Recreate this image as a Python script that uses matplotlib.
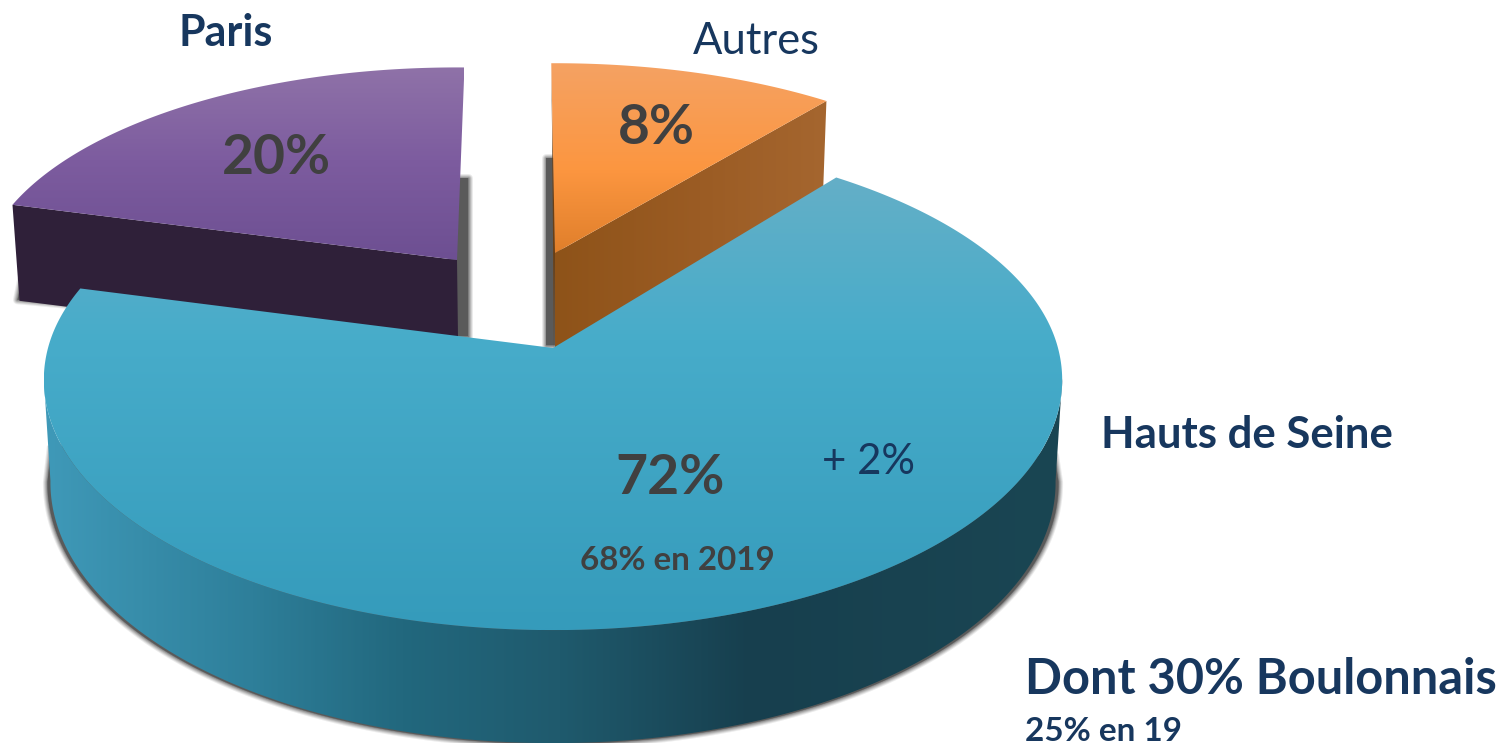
import numpy as np
import matplotlib
matplotlib.use("Agg")
import matplotlib.pyplot as plt
from matplotlib.colors import LinearSegmentedColormap
from matplotlib.patches import Polygon

# values
names = ["Hauts de Seine", "Paris", "Autres"]
shares = [72, 20, 8]
extra_blue = ["68% en 2019", "+ 2%"]
extra_sub = ["Dont 30% Boulonnais", "25% en 19"]

plt.rcParams['font.family'] = ['Lato', 'DejaVu Sans']

W, H = 1501, 743
fig = plt.figure(figsize=(W / 100, H / 100), dpi=100)
ax = fig.add_axes([0, 0, 1, 1])
ax.set_xlim(0, W)
ax.set_ylim(H, 0)
ax.axis("off")

# perspective of the pie plane, in pixels
F, G, K, CX = 505, 246, 0.128, 553


def rim(apex, rx, ry, t1, t2, n=160, back=1.0):
    t = np.radians(np.linspace(t1, t2, n))
    u, v = rx * np.cos(t), ry * np.sin(t)
    v = np.where(v > 0, v * back, v)
    s = 1 + K * v
    return apex[0] + F * u / s, apex[1] - G * v / s, v


def drop(x, y, depth):
    return CX + (x - CX) * 0.987, y + depth


def gradient(xs, ys, stops, z, vertical=True):
    # fill polygon with a linear gradient
    poly = Polygon(np.column_stack([xs, ys]), closed=True, fc="none", ec="none", zorder=z)
    ax.add_patch(poly)
    lo, hi = (min(ys), max(ys)) if vertical else (min(xs), max(xs))
    pos = [(p - lo) / (hi - lo) for p, _ in stops]
    pos = [min(max(p, 0), 1) for p in pos]
    pos[0], pos[-1] = 0, 1
    cmap = LinearSegmentedColormap.from_list("g", list(zip(pos, [c for _, c in stops])))
    ramp = np.linspace(0, 1, 400)
    ramp = ramp.reshape(-1, 1) if vertical else ramp.reshape(1, -1)
    im = ax.imshow(ramp, cmap=cmap, aspect="auto", zorder=z,
                   extent=(min(xs), max(xs), max(ys), min(ys)), interpolation="bilinear")
    im.set_clip_path(poly)
    ax.set_xlim(0, W)
    ax.set_ylim(H, 0)


def soft_shadow(xs, ys, z):
    # solid core with a few wide transparent strokes round it
    pts = np.column_stack([xs, ys])
    for px, a in zip([9, 7, 5, 3, 1], [0.10, 0.14, 0.18, 0.24, 0.30]):
        ax.add_patch(Polygon(pts, closed=True, fc="none", ec="#404040", lw=px * 0.72,
                             alpha=a, joinstyle="round", zorder=z))
    ax.add_patch(Polygon(pts, closed=True, fc="#5a5a5a", ec="none", zorder=z))


def sweep(share, stretch):
    return share * 3.6 * stretch


# Paris (back left)
ap = (457, 260)
t1 = 89
t2 = t1 + sweep(shares[1], 1.05)
x, y, v = rim(ap, 0.94, 0.87, t1, t2)
bx, by = drop(np.array([x[-1], ap[0]]), np.array([y[-1], ap[1]]), 96)
soft_shadow([450, 468, 468, 450], [178, 178, 336, 336], 1)
soft_shadow([bx[0] + 2, bx[0] - 2, 85, 85], [280, by[0] - 1, 306, 280], 1)
ax.add_patch(Polygon([(x[-1], y[-1]), ap, (bx[1], by[1]), (bx[0], by[0])], fc="#2f2039", ec="none", zorder=2))
gradient(np.r_[ap[0], x], np.r_[ap[1], y], [(68, "#8f72a8"), (160, "#7d5c9f"), (260, "#6d4f92")], 3)

# Autres (back right)
ap = (555, 253)
t1 = 90.5
t2 = t1 - sweep(shares[2], 1.35)
x, y, v = rim(ap, 0.94, 0.856, t1, t2)
bx, by = drop(np.array([x[-1], ap[0]]), np.array([y[-1], ap[1]]), 97)
soft_shadow([546, 560, 560, 546], [158, 158, 345, 345], 1)
gradient(np.array([x[-1], ap[0], bx[1], bx[0]]), np.array([y[-1], ap[1], by[1], by[0]]),
         [(555, "#8e5319"), (700, "#9b5c24"), (826, "#a5662f")], 2, vertical=False)
ax.add_patch(Polygon([(x[0], y[0]), (x[0] + 1, 150), (bx[1] - 1, by[1]), ap], fc="#6b3f14", ec="none", zorder=3))
gradient(np.r_[ap[0], x], np.r_[ap[1], y], [(63, "#f5a263"), (170, "#fc9640"), (253, "#e07f2b")], 3)

# Hauts de Seine (front)
ap = (553, 348)
t1 = 165
t2 = t1 + sweep(shares[0], 0.953)
x, y, v = rim(ap, 1.0, 1.0, t1, t2, 400, back=0.965)
wx, wy, wv = rim(ap, 1.0, 1.0, 187, 353, 300)
bx, by = drop(wx, wy, 101 - 12 * wv)
sx = CX + (bx - CX) * 1.006
soft_shadow(np.r_[sx[0] + 4, sx, sx[-1] - 4], np.r_[446, by + 1, 456], 4)
gradient(np.r_[wx, bx[::-1]], np.r_[wy, by[::-1]],
         [(45, "#3f99b8"), (250, "#2e7f9a"), (400, "#22687e"), (560, "#1f5a6d"),
          (750, "#173f4e"), (1063, "#1a4653")], 5, vertical=False)
gradient(np.r_[ap[0], x], np.r_[ap[1], y], [(170, "#64afc7"), (340, "#47acca"), (630, "#359bbb")], 6)


# text, sized to the width it takes in the picture
def label(s, x0, x1, yc, color, bold=True):
    t = ax.text(x0, yc, s, color=color, fontsize=30, ha="left", va="center_baseline",
                fontweight="bold" if bold else "normal", zorder=10)
    w = t.get_window_extent(fig.canvas.get_renderer()).width
    t.set_fontsize(30 * (x1 - x0) / w)


NAVY, GREY = "#17375e", "#404040"
label(names[1], 178, 272, 29, NAVY)
label(names[2], 693, 820, 38, NAVY, bold=False)
label(names[0], 1101, 1393, 432, NAVY)
label(extra_sub[0], 1025, 1497, 676, NAVY)
label(extra_sub[1], 1025, 1182, 729, NAVY)
label(f"{shares[1]}%", 222, 331, 154, GREY)
label(f"{shares[2]}%", 618, 695, 124, GREY)
label(f"{shares[0]}%", 615, 724, 473, GREY)
label(extra_blue[0], 580, 775, 558, GREY)
label(extra_blue[1], 822, 915, 459, NAVY, bold=False)

fig.savefig("out.png", dpi=100)
